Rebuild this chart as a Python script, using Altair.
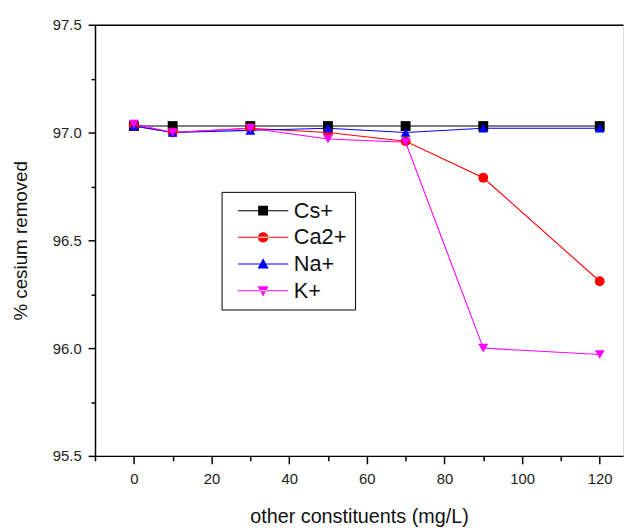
import altair as alt
import pandas as pd

x_vals = [0, 10, 30, 50, 70, 90, 120]
series_names = ["Cs+", "Ca2+", "Na+", "K+"]
cs_vals = [97.03, 97.03, 97.03, 97.03, 97.03, 97.03, 97.03]
ca_vals = [97.03, 97.00, 97.02, 97.00, 96.96, 96.79, 96.31]
na_vals = [97.03, 97.00, 97.01, 97.02, 97.00, 97.02, 97.02]
k_vals = [97.04, 97.00, 97.02, 96.97, 96.955, 96.00, 95.97]

colors = ["#000000", "#ff0000", "#0000ff", "#ff00ff"]
shapes = ["square", "circle", "triangle-up", "triangle-down"]

rows = []
for name, vals in zip(series_names, [cs_vals, ca_vals, na_vals, k_vals]):
    for xv, yv in zip(x_vals, vals):
        rows.append({"series": name, "x": xv, "y": yv})
df = pd.DataFrame(rows)

FONT = "Liberation Sans"

# legend glyphs: line + marker (units: 1 unit = 5 px at size 100)
line = "M-5.1,-0.1H5.1V0.1H-5.1Z"
leg_paths = [
    line + "M-1,-1H1V1H-1Z",
    line + "M-1.05,0A1.05,1.05 0 1 0 1.05,0A1.05,1.05 0 1 0 -1.05,0Z",
    line + "M0,-1.15L1.1,0.9L-1.1,0.9Z",
    line + "M0,1.15L1.1,-0.9L-1.1,-0.9Z",
]

x_scale = alt.Scale(domain=[-10, 126], nice=False, zero=False)
y_scale = alt.Scale(domain=[95.5, 97.5], nice=False, zero=False)

x_axis = alt.Axis(
    values=list(range(-10, 130, 10)),
    labelExpr="datum.value % 20 === 0 ? datum.label : ''",
    tickSize={"condition": {"test": "datum.value % 20 === 0", "value": 8}, "value": 5},
    title="other constituents (mg/L)",
    grid=False,
    labelFontSize=15,
    titleFontSize=20,
    titleFontWeight="normal",
    labelPadding=8,
    titlePadding=20,
    domainColor="black",
    tickColor="black",
    domainWidth=1.5,
    tickWidth=1.5,
    labelColor="#222",
    titleColor="#111",
    labelFont=FONT,
    titleFont=FONT,
)
y_axis = alt.Axis(
    values=[95.5, 95.75, 96.0, 96.25, 96.5, 96.75, 97.0, 97.25, 97.5],
    labelExpr="datum.value % 0.5 === 0 ? format(datum.value, '.1f') : ''",
    tickSize={"condition": {"test": "datum.value % 0.5 === 0", "value": 7}, "value": 4},
    title="% cesium removed",
    grid=False,
    labelFontSize=15,
    titleFontSize=19,
    titleFontWeight="normal",
    labelPadding=7,
    titlePadding=22,
    domainColor="black",
    tickColor="black",
    domainWidth=1.5,
    tickWidth=1.5,
    labelColor="#222",
    titleColor="#111",
    labelFont=FONT,
    titleFont=FONT,
)

base = alt.Chart(df)

lines = base.mark_line(strokeWidth=1.1).encode(
    x=alt.X("x:Q", scale=x_scale, axis=x_axis),
    y=alt.Y("y:Q", scale=y_scale, axis=y_axis),
    color=alt.Color("series:N", scale=alt.Scale(domain=series_names, range=colors), legend=None),
    detail="series:N",
    order=alt.Order("x:Q"),
)

points = base.mark_point(filled=True, size=100, opacity=1).encode(
    x=alt.X("x:Q", scale=x_scale, axis=None),
    y=alt.Y("y:Q", scale=y_scale, axis=y_axis),
    color=alt.Color("series:N", scale=alt.Scale(domain=series_names, range=colors), legend=None),
    shape=alt.Shape("series:N", scale=alt.Scale(domain=series_names, range=shapes), legend=None),
)

legend_props = dict(
    title=None,
    orient="none",
    legendX=128,
    legendY=169,
    strokeColor="black",
    fillColor="white",
    padding=8,
    labelFontSize=22,
    labelFont=FONT,
    labelColor="#111",
    symbolSize=100,
    symbolStrokeWidth=0,
    symbolOpacity=1,
    symbolOffset=23,
    labelOffset=20,
    rowPadding=5,
)

legend_layer = base.mark_point(filled=True, size=100, opacity=0).encode(
    x=alt.X("x:Q", scale=x_scale,
            axis=alt.Axis(orient="top", labels=False, ticks=False, title=None, grid=False,
                          domainColor="black", domainWidth=1.5)),
    y=alt.Y("y:Q", scale=y_scale, axis=y_axis),
    color=alt.Color("series:N", scale=alt.Scale(domain=series_names, range=colors),
                    legend=alt.Legend(**legend_props)),
    shape=alt.Shape("series:N", scale=alt.Scale(domain=series_names, range=leg_paths),
                    legend=alt.Legend(**legend_props)),
)

chart = (
    alt.layer(lines, points, legend_layer)
    .resolve_scale(color="independent", shape="independent")
    .resolve_axis(x="independent")
    .properties(width=534, height=436, padding={"left": 3, "top": 7, "right": 0, "bottom": 0})
    .configure_view(stroke=None)
    .configure(font=FONT)
)

chart.save("out.html", embed_options={"renderer": "svg", "actions": False})
